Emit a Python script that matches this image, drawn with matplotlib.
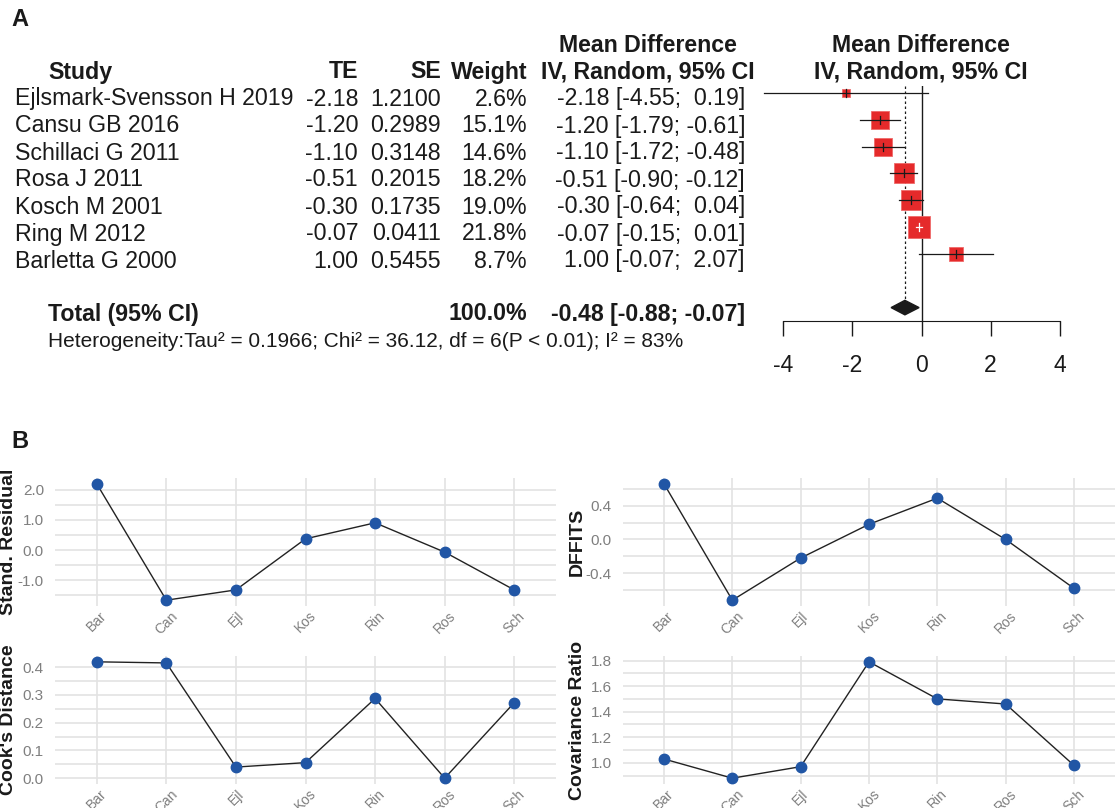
import matplotlib
matplotlib.use("Agg")
import matplotlib.pyplot as plt
from matplotlib.ticker import MultipleLocator, FixedLocator, FormatStrFormatter
from matplotlib.transforms import ScaledTranslation
import numpy as np

plt.rcParams['font.family'] = ['Liberation Sans', 'DejaVu Sans']

### PANEL A data (forest plot)
studies = ["Ejlsmark-Svensson H 2019", "Cansu GB 2016", "Schillaci G 2011", "Rosa J 2011",
           "Kosch M 2001", "Ring M 2012", "Barletta G 2000"]
te = [-2.18, -1.20, -1.10, -0.51, -0.30, -0.07, 1.00]
se = [1.2100, 0.2989, 0.3148, 0.2015, 0.1735, 0.0411, 0.5455]
weight = [2.6, 15.1, 14.6, 18.2, 19.0, 21.8, 8.7]
ci_low = [-4.55, -1.79, -1.72, -0.90, -0.64, -0.15, -0.07]
ci_high = [0.19, -0.61, -0.48, -0.12, 0.04, 0.01, 2.07]
total_te, total_low, total_high = -0.48, -0.88, -0.07
total_weight = 100.0
forest_ticks = [-4, -2, 0, 2, 4]
het_text = "Heterogeneity:Tau² = 0.1966; Chi² = 36.12, df = 6(P < 0.01); I² = 83%"

### PANEL B data (influence diagnostics)
abbr = ["Bar", "Can", "Ejl", "Kos", "Rin", "Ros", "Sch"]
std_resid = [2.19, -1.66, -1.32, 0.37, 0.90, -0.07, -1.32]
dffits = [0.66, -0.72, -0.22, 0.18, 0.49, 0.00, -0.58]
cooks = [0.419, 0.415, 0.040, 0.056, 0.287, 0.000, 0.272]
cov_ratio = [1.03, 0.88, 0.97, 1.79, 1.50, 1.46, 0.98]
resid_ticks = [-1.0, 0.0, 1.0, 2.0]
dffits_ticks = [-0.4, 0.0, 0.4]
cooks_ticks = [0.0, 0.1, 0.2, 0.3, 0.4]
cov_ticks = [1.0, 1.2, 1.4, 1.6, 1.8]

W, H = 1115, 808
fig = plt.figure(figsize=(W / 100, H / 100), dpi=100)

def fx(x):
    return x / W

def fy(y):
    return 1 - y / H

def txt(x, y, s, ha="left", size=16.7, bold=False):
    fig.text(fx(x), fy(y), s, ha=ha, va="center", fontsize=size,
             fontweight="bold" if bold else "normal", color="#1a1a1a")

# panel letters
txt(11, 20, "A", size=17, bold=True)
txt(11, 441, "B", size=17, bold=True)

# table headers
txt(648, 46, "Mean Difference", ha="center", bold=True)
txt(921, 46, "Mean Difference", ha="center", bold=True)
txt(48, 72, "Study", bold=True)
txt(358, 72, "TE", ha="right", bold=True)
txt(441, 72, "SE", ha="right", bold=True)
txt(527, 72, "Weight", ha="right", bold=True)
txt(648, 72, "IV, Random, 95% CI", ha="center", bold=True)
txt(921, 72, "IV, Random, 95% CI", ha="center", bold=True)

row_y0, row_dy = 99, 27
for i in range(len(studies)):
    y = row_y0 + i * row_dy
    txt(15, y, studies[i])
    txt(358, y, f"{te[i]:.2f}", ha="right")
    txt(441, y, f"{se[i]:.4f}", ha="right")
    txt(527, y, f"{weight[i]:.1f}%", ha="right")
    txt(745, y, f"{te[i]:.2f} [{ci_low[i]:.2f}; {ci_high[i]:5.2f}]", ha="right")

txt(48, 314, "Total (95% CI)", bold=True)
txt(527, 314, f"{total_weight:.1f}%", ha="right", bold=True)
txt(745, 314, f"{total_te:.2f} [{total_low:.2f}; {total_high:.2f}]", ha="right", bold=True)
txt(48, 341, het_text, size=15)

# forest plot
ax = fig.add_axes([fx(766), fy(321), (1077 - 766) / W, (321 - 86) / H])
ax.set_xlim(-4.5, 4.5)
ax.set_ylim(8.5, -0.26)
ax.axvline(0, color="#1a1a1a", lw=1.0)
ax.plot([total_te, total_te], [-0.26, 7.75], color="#1a1a1a", lw=0.9, ls=(0, (2, 2)))
for i in range(len(te)):
    side = 4.6 * np.sqrt(weight[i]) * 0.72
    ax.plot(te[i], i, "s", ms=side, color="#e52a2b", mec="#ef6a6a", mew=0.6, zorder=3)
    inside = (ci_high[i] - ci_low[i]) * 34.6 < side / 0.72
    lc = "white" if inside else "#1a1a1a"
    ax.plot([ci_low[i], ci_high[i]], [i, i], color=lc, lw=0.9, zorder=4, clip_on=False)
    ax.plot([te[i], te[i]], [i - 0.15, i + 0.15], color=lc, lw=0.9, zorder=4)
ax.fill([total_low, total_te, total_high, total_te], [8, 7.73, 8, 8.27], color="#1a1a1a", zorder=4)
for s in ["top", "right", "left"]:
    ax.spines[s].set_visible(False)
ax.spines["bottom"].set_bounds(forest_ticks[0], forest_ticks[-1])
ax.spines["bottom"].set_color("#1a1a1a")
ax.set_yticks([])
ax.set_xticks(forest_ticks)
ax.set_xticklabels([str(t) for t in forest_ticks])
ax.tick_params(axis="x", length=11, width=1.0, labelsize=16.5, pad=13, colors="#1a1a1a")
ax.patch.set_alpha(0)

# influence panels
panels = [
    (std_resid, "Stand. Residual", resid_ticks, 0.5, [55, 606, 556]),
    (dffits, "DFFITS", dffits_ticks, 0.2, [623, 606, 1115]),
    (cooks, "Cook's Distance", cooks_ticks, 0.05, [55, 784, 556]),
    (cov_ratio, "Covariance Ratio", cov_ticks, 0.1, [623, 784, 1115]),
]
xs = np.arange(len(abbr))
shift = ScaledTranslation(5 / 100, 3 / 100, fig.dpi_scale_trans)
for vals, label, ticks, minor, (left, bottom, right) in panels:
    a = fig.add_axes([fx(left), fy(bottom), (right - left) / W, 128 / H])
    a.plot(xs, vals, color="#222222", lw=1.0, zorder=2)
    a.plot(xs, vals, "o", ms=7.5, color="#2156a5", zorder=3)
    a.set_xlim(-0.6, len(abbr) - 0.4)
    a.set_xticks(xs)
    a.set_xticklabels(abbr, rotation=45, ha="center")
    for lbl in a.get_xticklabels():
        lbl.set_transform(lbl.get_transform() + shift)
    a.yaxis.set_major_locator(FixedLocator(ticks))
    a.yaxis.set_minor_locator(MultipleLocator(minor))
    a.yaxis.set_major_formatter(FormatStrFormatter("%.1f"))
    a.grid(which="both", color="#e3e3e3", lw=1.2)
    a.set_axisbelow(True)
    a.tick_params(which="both", length=0, colors="#7f7f7f")
    a.tick_params(axis="y", labelsize=11, pad=8)
    a.tick_params(axis="x", labelsize=10, pad=2)
    for s in a.spines.values():
        s.set_visible(False)
    a.set_ylabel(label, fontsize=14, fontweight="bold", color="#1a1a1a")
    # label centre sits ~45 px left of the plot area
    a.yaxis.set_label_coords(-46 / (right - left), 0.5)
    a.yaxis.label.set_verticalalignment("center")

fig.savefig("out.png", dpi=100)
